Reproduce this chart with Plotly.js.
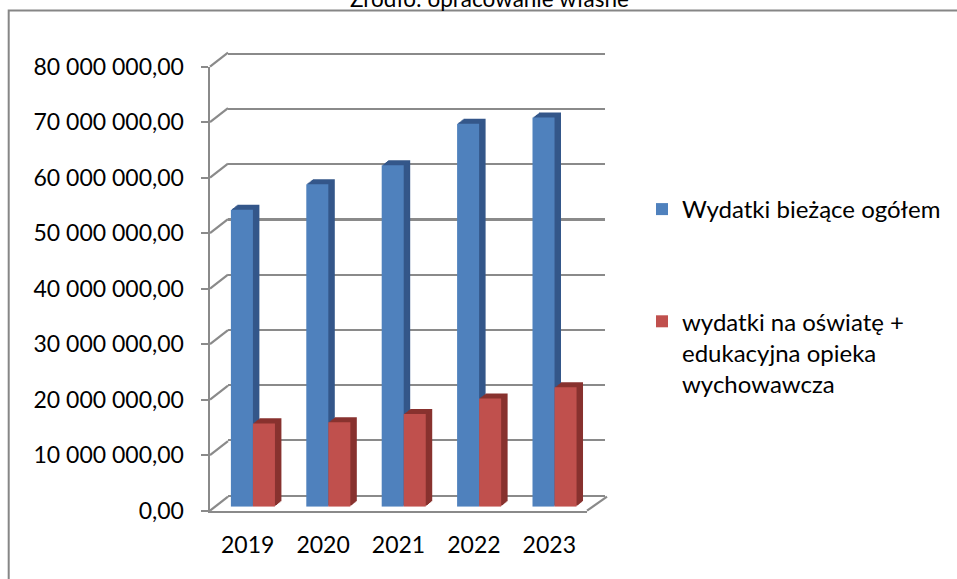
<!DOCTYPE html>
<html>
<head>
<meta charset="utf-8">
<script src="https://cdn.plot.ly/plotly-3.0.1.min.js"></script>
<style>html,body{margin:0;padding:0;background:#fff;}#chart{width:957px;height:579px;}</style>
</head>
<body>
<div id="chart"></div>
<script>
// ---- data ----
var years = ['2019', '2020', '2021', '2022', '2023'];
var wydatkiOgolem = [53500000, 58100000, 61500000, 69000000, 70100000];
var wydatkiOswiata = [15000000, 15200000, 16700000, 19500000, 21500000];
var seriesNames = ['Wydatki bieżące ogółem', 'wydatki na oświatę +<br>edukacyjna opieka<br>wychowawcza'];
var tickVals = [0, 10000000, 20000000, 30000000, 40000000, 50000000, 60000000, 70000000, 80000000];
var tickText = ['0,00', '10 000 000,00', '20 000 000,00', '30 000 000,00', '40 000 000,00',
                '50 000 000,00', '60 000 000,00', '70 000 000,00', '80 000 000,00'];
var sourceText = 'Źródło: opracowanie własne';

// ---- geometry helpers (layout only) ----
var W = 957, H = 579;
var FX0 = 210, FX1 = 587, FY0 = 510.7, FY1 = 66.7; // front frame
var DX = 18, DY = 14;                              // full depth offset
var YMAX = 80000000;
function px(x) { return x / W; }
function py(y) { return 1 - y / H; }
function dom(d) {
  return {x: [px(FX0 + DX * d), px(FX1 + DX * d)], y: [py(FY0 - DY * d), py(FY1 - DY * d)]};
}
var FONT = 'Lato, "Open Sans", sans-serif';
var TICK_SIZE = 23, LEG_SIZE = 24, SRC_SIZE = 22.5;
var GRID = '#8a8a8a';
var BLUE = '#4f81bd', RED = '#c0504d', BLUE_D = '#34578a', RED_D = '#88322f';
var zeros = years.map(function () { return 0; });

var data = [];
var layout = {
  width: W, height: H,
  margin: {l: 0, r: 0, t: 0, b: 0},
  paper_bgcolor: '#ffffff',
  plot_bgcolor: 'rgba(0,0,0,0)',
  barmode: 'group',
  bargap: 0.416,
  bargroupgap: 0,
  hovermode: false,
  showlegend: true,
  font: {family: FONT, size: TICK_SIZE, color: '#000000'},
  legend: {
    x: px(642), y: py(187), xanchor: 'left', yanchor: 'top',
    bgcolor: 'rgba(0,0,0,0)', borderwidth: 0,
    font: {family: FONT, size: LEG_SIZE, color: '#000000'},
    traceorder: 'grouped', tracegroupgap: 78, valign: 'top'
  },
  shapes: [],
  annotations: []
};

function hiddenAxis(d, xid, yid, type) {
  var dd = dom(d);
  var xa = {domain: dd.x, anchor: yid, type: type, range: [-0.5, 4.5], fixedrange: true,
            categoryorder: 'array', categoryarray: years,
            showgrid: false, zeroline: false, showline: false, showticklabels: false, ticks: ''};
  var ya = {domain: dd.y, anchor: xid, range: [0, YMAX], fixedrange: true,
            showgrid: false, zeroline: false, showline: false, showticklabels: false, ticks: ''};
  return [xa, ya];
}

// subplot 1: back wall with gridlines
(function () {
  var ax = hiddenAxis(1, 'x', 'y', 'category');
  ax[1].range = [-200000, YMAX + 200000];
  ax[1].showgrid = true; ax[1].gridcolor = GRID; ax[1].gridwidth = 2.2;
  ax[1].zeroline = true; ax[1].zerolinecolor = GRID; ax[1].zerolinewidth = 2.2;
  ax[1].tickvals = tickVals; ax[1].tickmode = 'array'; ax[1].ticktext = tickText;
  layout.xaxis = ax[0]; layout.yaxis = ax[1];
  data.push({type: 'scatter', x: years, y: zeros, mode: 'markers', marker: {opacity: 0},
             xaxis: 'x', yaxis: 'y', showlegend: false, hoverinfo: 'skip'});
})();

// subplots 2..7: depth layers of the bars (far to near)
var FRONT_D = 0.29, BACK_D = 0.65, NL = 6;
for (var k = NL; k >= 1; k--) {
  var idx = NL - k + 2;
  var d = FRONT_D + (BACK_D - FRONT_D) * k / NL;
  var ax = hiddenAxis(d, 'x' + idx, 'y' + idx, 'category');
  layout['xaxis' + idx] = ax[0]; layout['yaxis' + idx] = ax[1];
  data.push({type: 'bar', x: years, y: wydatkiOgolem, xaxis: 'x' + idx, yaxis: 'y' + idx,
             marker: {color: BLUE_D, line: {width: 0}}, showlegend: false, hoverinfo: 'skip'});
  data.push({type: 'bar', x: years, y: wydatkiOswiata, xaxis: 'x' + idx, yaxis: 'y' + idx,
             marker: {color: RED_D, line: {width: 0}}, showlegend: false, hoverinfo: 'skip'});
}

// subplot 8: front faces of bars
(function () {
  var ax = hiddenAxis(FRONT_D, 'x8', 'y8', 'category');
  layout.xaxis8 = ax[0]; layout.yaxis8 = ax[1];
  data.push({type: 'bar', x: years, y: wydatkiOgolem, xaxis: 'x8', yaxis: 'y8', name: seriesNames[0],
             legendgroup: 'a', marker: {color: BLUE, line: {width: 0}}, hoverinfo: 'skip'});
  data.push({type: 'bar', x: years, y: wydatkiOswiata, xaxis: 'x8', yaxis: 'y8', name: seriesNames[1],
             legendgroup: 'b', marker: {color: RED, line: {width: 0}}, hoverinfo: 'skip'});
})();

// subplot 9: front axes (labels, lines)
(function () {
  var dd = dom(0);
  layout.xaxis9 = {domain: dd.x, anchor: 'y9', type: 'category', range: [-0.5, 4.5], fixedrange: true,
    categoryorder: 'array', categoryarray: years,
    showgrid: false, zeroline: false, showline: true, linecolor: GRID, linewidth: 2.5,
    ticks: '', showticklabels: true, ticklabelstandoff: 12,
    tickfont: {family: FONT, size: TICK_SIZE, color: '#000'}};
  layout.yaxis9 = {domain: dd.y, anchor: 'x9', range: [0, YMAX], fixedrange: true,
    showgrid: false, zeroline: false, showline: true, linecolor: GRID, linewidth: 2.5,
    ticks: 'outside', ticklen: 7, tickwidth: 2.2, tickcolor: GRID,
    tickmode: 'array', tickvals: tickVals, ticktext: tickText, ticklabelstandoff: 12,
    tickfont: {family: FONT, size: TICK_SIZE, color: '#000'}};
  data.push({type: 'scatter', x: years, y: zeros, mode: 'markers', marker: {opacity: 0},
             xaxis: 'x9', yaxis: 'y9', showlegend: false, hoverinfo: 'skip'});
})();

// side-wall connectors from each front tick to the back wall
tickVals.forEach(function (v) {
  var yf = FY0 - v / YMAX * (FY0 - FY1);
  layout.shapes.push({type: 'line', xref: 'paper', yref: 'paper',
    x0: px(FX0), y0: py(yf), x1: px(FX0 + DX), y1: py(yf - DY),
    line: {color: GRID, width: 2.2}});
});
// floor right edge
layout.shapes.push({type: 'line', xref: 'paper', yref: 'paper',
  x0: px(FX1), y0: py(FY0), x1: px(FX1 + DX + 2), y1: py(FY0 - DY),
  line: {color: GRID, width: 2.2}});
// outer chart border (extends beyond the picture on the right and bottom)
layout.shapes.push({type: 'rect', xref: 'paper', yref: 'paper',
  x0: px(8.7), y0: -0.1, x1: 1.1, y1: py(10.5),
  line: {color: '#868686', width: 2}, fillcolor: 'rgba(0,0,0,0)'});

// source caption, partly cut off at the top (as in the reference)
layout.annotations.push({xref: 'paper', yref: 'paper', x: px(490), y: py(-2),
  xanchor: 'center', yanchor: 'middle', showarrow: false, text: sourceText,
  font: {family: FONT, size: SRC_SIZE, color: '#000'}});

Plotly.newPlot('chart', data, layout, {staticPlot: true, displayModeBar: false});
</script>
</body>
</html>
